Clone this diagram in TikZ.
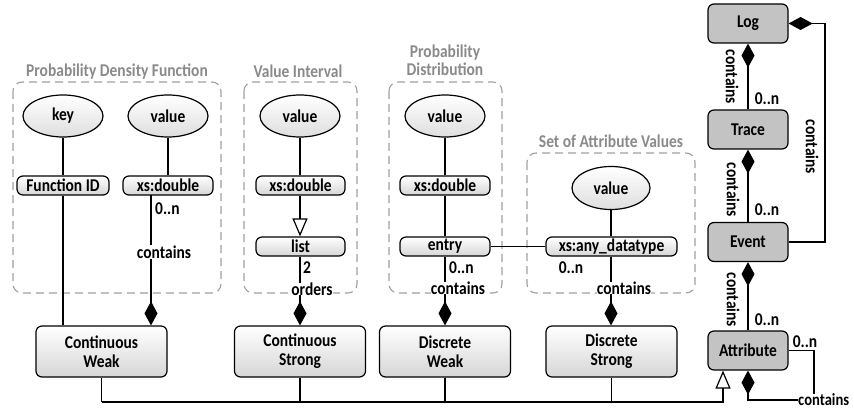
\documentclass[tikz,border=0pt]{standalone}
\usepackage{fontspec}
\setmainfont{Carlito}[FakeStretch=0.86]
\usetikzlibrary{arrows.meta,shapes.geometric,positioning}
\definecolor{titlegray}{HTML}{8A8A8A}
\definecolor{dashgray}{HTML}{A0A0A0}
\definecolor{darkbox}{HTML}{C3C3C3}
\definecolor{lightbot}{HTML}{D6D6D6}
\tikzset{
  txt/.style={font=\fontsize{18}{19}\selectfont\bfseries},
  bigbox/.style={draw, line width=1.2pt, rounded corners=6pt, top color=white, bottom color=lightbot, minimum width=131pt, minimum height=51pt, align=center, txt, inner sep=0pt},
  rbox/.style={draw, line width=1.2pt, rounded corners=6pt, fill=darkbox, minimum width=80pt, minimum height=39pt, align=center, txt, inner sep=0pt},
  smallbox/.style={draw, line width=1.2pt, rounded corners=6pt, top color=white, bottom color=lightbot, minimum height=19pt, align=center, txt, inner sep=0pt},
  oval/.style={draw, line width=1.2pt, ellipse, top color=white, bottom color=lightbot!80, minimum width=80pt, minimum height=42pt, inner sep=0pt, txt},
  container/.style={draw=dashgray, dash pattern=on 8pt off 5pt, line width=1.1pt, rounded corners=9pt},
  ctitle/.style={text=titlegray, txt, align=center},
  conn/.style={line width=1.2pt},
  comp/.style={conn, -{Diamond[length=24pt,width=13pt,fill=black]}},
  gen/.style={conn, -{Triangle[open,length=18pt,width=15pt,fill=white]}},
  lbl/.style={txt, inner sep=1pt},
  wlbl/.style={txt, fill=white, inner sep=1pt},
}
\begin{document}
\begin{tikzpicture}[x=1pt,y=-1pt]
\useasboundingbox (0,0) rectangle (854,409);

% containers
\draw[container] (13,82) rectangle (221,293);
\draw[container] (244,82) rectangle (357,293);
\draw[container] (389,82) rectangle (502,293);
\draw[container] (527,153) rectangle (695,293);
\node[ctitle] (t1) at (117,72) {Probability Density Function};
\node[ctitle] (t2) at (298,71) {Value Interval};
\node[ctitle] (t3) at (445,60) {Probability\\[-1pt]Distribution};
\node[ctitle] (t4) at (611,141) {Set of Attribute Values};

% big boxes
\node[bigbox] (cw) at (101.5,351.5) {Continuous\\Weak};
\node[bigbox] (cs) at (300,351.5) {Continuous\\Strong};
\node[bigbox] (dw) at (445,351.5) {Discrete\\Weak};
\node[bigbox] (ds) at (611.5,351.5) {Discrete\\Strong};

% right column
\node[rbox] (log) at (748,23.5) {Log};
\node[rbox] (trace) at (748,129.5) {Trace};
\node[rbox] (event) at (748,242) {Event};
\node[rbox] (attr) at (748,350.5) {Attribute};

% ellipses
\node[oval] (key) at (63,116) {key};
\node[oval] (v1) at (168,116) {value};
\node[oval] (v2) at (300,116) {value};
\node[oval] (v3) at (445,116) {value};
\node[oval, minimum width=78pt, minimum height=43pt] (v4) at (611,188) {value};

% small boxes
\node[smallbox, minimum width=92pt] (fid) at (63,185.5) {Function ID};
\node[smallbox, minimum width=90pt] (xd1) at (168,185.5) {xs:double};
\node[smallbox, minimum width=89pt] (xd2) at (300.5,185.5) {xs:double};
\node[smallbox, minimum width=89pt] (list) at (300.5,246.5) {list};
\node[smallbox, minimum width=90pt] (xd3) at (445,185.5) {xs:double};
\node[smallbox, minimum width=90pt] (entry) at (445,246.5) {entry};
\node[smallbox, minimum width=131pt] (xany) at (611.5,246.5) {xs:any\_datatype};

% PDF connectors
\draw[conn] (key) -- (fid);
\draw[conn] (v1) -- (xd1);
\draw[conn] (fid.south) -- (fid.south |- cw.north);
\coordinate (c1) at (151,195);
\draw[comp] (c1) -- (c1 |- cw.north);
\node[lbl, anchor=west] (n1) at (154,209) {0..n};
\node[wlbl] (l1) at (164,252) {contains};

% Value interval
\draw[conn] (v2) -- (xd2.north -| v2);
\draw[gen] (xd2.south -| v2) -- (list.north -| v2);
\draw[comp] (list.south -| cs) -- (cs.north);
\node[lbl, anchor=west] (n2) at (302,268) {2};
\node[wlbl, inner sep=0pt] (l2) at (312,289) {orders};

% Probability distribution
\draw[conn] (v3) -- (xd3);
\draw[conn] (xd3) -- (entry);
\draw[comp] (entry.south) -- (dw.north);
\node[lbl, anchor=west] (n3) at (448,268) {0..n};
\node[wlbl, inner sep=0pt] (l3) at (458,288) {contains};

% Set of attribute values
\draw[conn] (v4) -- (xany.north -| v4);
\draw[conn] (entry.east) -- (xany.west);
\draw[comp] (xany.south -| v4) -- (ds.north -| v4);
\node[lbl] (n4) at (571,268) {0..n};
\node[wlbl, inner sep=0pt] (l4) at (624,288) {contains};

% bottom generalization line
\coordinate (b1) at (101.5,402);
\coordinate (b2) at (723,402);
\draw[conn] (cw.south) -- (b1);
\draw[conn] (cs.south) -- (cs.south |- b1);
\draw[conn] (dw.south) -- (dw.south |- b1);
\draw[conn] (ds.south) -- (ds.south |- b1);
\draw[gen] (b1) -- (b2) -- (b2 |- attr.south);

% right column connectors
\draw[comp] (trace) -- (log);
\draw[comp] (event) -- (trace);
\draw[comp] (attr) -- (event);
\node[lbl, rotate=-90] (l5) at (732,77) {contains};
\node[lbl] (n5) at (767,99) {0..n};
\node[lbl, rotate=-90] (l6) at (733,190) {contains};
\node[lbl] (n6) at (767,210) {0..n};
\node[lbl, rotate=-90] (l7) at (733,300) {contains};
\node[lbl] (n7) at (767,320) {0..n};

% Event -> Log
\coordinate (r1) at (825,23.5);
\coordinate (r2) at (825,242);
\draw[comp] (event.east) -- (r2) -- (r1) -- (log.east);
\node[lbl, rotate=-90] (l8) at (812,147) {contains};

% Attribute self loop
\coordinate (s1) at (814,350.5);
\coordinate (s2) at (814,400);
\coordinate (s3) at (748,400);
\draw[comp] (attr.east) -- (s1) -- (s2) -- (s3) -- (attr.south);
\node[wlbl, inner sep=0pt, anchor=west, font=\fontsize{17}{18}\selectfont\bfseries] (l9) at (798,400) {contains};
\node[lbl] (n8) at (805,342) {0..n};
\end{tikzpicture}
\end{document}
